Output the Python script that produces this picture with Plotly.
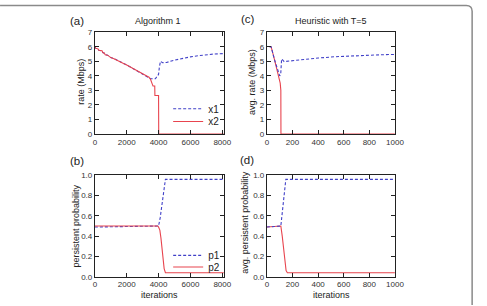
import plotly.graph_objects as go

W, H = 487, 306

# ---------------- data ----------------
# (a) Algorithm 1 : rates (Mbps) vs iterations
a_x1_iter = [0, 50, 200, 250, 450, 500, 600, 650, 800, 900, 1000, 1200, 1400, 1600, 1800, 2000,
             2200, 2400, 2600, 2800, 3000, 3200, 3400, 3500, 3800, 3900, 4000, 4050, 4120, 4250,
             4500, 5000, 5500, 6000, 6500, 7000, 7500, 8100]
a_x1_val = [6.0, 5.9, 5.85, 5.75, 5.72, 5.6, 5.55, 5.45, 5.42, 5.35, 5.25, 5.18, 5.05, 4.95, 4.85, 4.75,
            4.62, 4.52, 4.40, 4.28, 4.15, 4.02, 3.88, 3.8, 3.8, 3.95, 4.1, 4.6, 5.0, 4.9,
            4.92, 5.08, 5.2, 5.3, 5.38, 5.45, 5.5, 5.53]
a_x2_iter = [0, 50, 200, 250, 450, 500, 600, 650, 800, 900, 1000, 1200, 1400, 1600, 1800, 2000,
             2200, 2400, 2600, 2800, 3000, 3200, 3400, 3500, 3600, 3650, 3760, 3770, 4000, 4010, 8100]
a_x2_val = [6.0, 5.9, 5.85, 5.75, 5.72, 5.6, 5.55, 5.45, 5.42, 5.35, 5.25, 5.18, 5.05, 4.95, 4.85, 4.75,
            4.62, 4.52, 4.40, 4.28, 4.15, 4.02, 3.9, 3.75, 3.45, 3.3, 3.3, 2.65, 2.65, 0.0, 0.0]

# (b) Algorithm 1 : persistent probability vs iterations
b_p1_iter = [0, 3950, 4000, 4100, 4200, 4300, 4430, 8100]
b_p1_val = [0.49, 0.5, 0.5, 0.58, 0.7, 0.82, 0.96, 0.96]
b_p2_iter = [0, 3950, 4000, 4080, 4150, 4250, 4350, 4430, 8100]
b_p2_val = [0.5, 0.5, 0.49, 0.46, 0.38, 0.25, 0.08, 0.04, 0.04]

# (c) Heuristic with T=5 : avg. rate
c_x1_iter = [20, 33, 60, 92, 100, 108, 115, 135, 200, 275, 400, 530, 650, 784, 900, 1000]
c_x1_val = [6.0, 6.0, 5.1, 4.15, 4.0, 4.1, 5.16, 4.98, 5.05, 5.11, 5.22, 5.31, 5.37, 5.42, 5.45, 5.47]
c_x2_iter = [20, 33, 60, 92, 104, 109, 110, 1000]
c_x2_val = [6.0, 6.0, 5.1, 4.0, 3.5, 3.0, 0.0, 0.0]

# (d) Heuristic with T=5 : avg. persistent probability
d_p1_iter = [0, 109, 148, 1000]
d_p1_val = [0.49, 0.5, 0.96, 0.96]
d_p2_iter = [0, 109, 120, 150, 160, 1000]
d_p2_val = [0.49, 0.5, 0.4, 0.06, 0.04, 0.04]

# ---------------- style ----------------
BLUE = "#4040c8"
RED = "#e8444e"
FONT = "Liberation Sans, Arial, Helvetica, sans-serif"
AX = "#222222"
DASH = "3px,2px"


def px_x(p):
    return p / W


def px_y(p):
    return 1 - p / H


fig = go.Figure()


def add(xs, ys, color, dash, name, xa, ya, legend="legend", show=False):
    fig.add_trace(go.Scatter(
        x=xs, y=ys, mode="lines", name=name,
        line=dict(color=color, width=1.1, dash=dash),
        xaxis=xa, yaxis=ya, showlegend=show, legend=legend,
    ))


add(a_x1_iter, a_x1_val, BLUE, DASH, "x1", "x", "y", "legend", True)
add(a_x2_iter, a_x2_val, RED, "solid", "x2", "x", "y", "legend2", True)
add(c_x2_iter, c_x2_val, RED, "solid", "x2", "x2", "y2")
add(c_x1_iter, c_x1_val, BLUE, DASH, "x1", "x2", "y2")
add(b_p1_iter, b_p1_val, BLUE, DASH, "p1", "x3", "y3", "legend3", True)
add(b_p2_iter, b_p2_val, RED, "solid", "p2", "x3", "y3", "legend4", True)
add(d_p2_iter, d_p2_val, RED, "solid", "p2", "x4", "y4")
add(d_p1_iter, d_p1_val, BLUE, DASH, "p1", "x4", "y4")

common = dict(showline=True, linecolor=AX, linewidth=1, mirror="allticks",
              ticks="inside", ticklen=4, tickcolor=AX, tickwidth=1,
              showgrid=False, zeroline=False,
              tickfont=dict(family=FONT, size=8, color="#333333"))

left_dom = [px_x(95), px_x(227)]
right_dom = [px_x(271), px_x(402)]
top_dom = [px_y(134), px_y(29)]
bot_dom = [px_y(281), px_y(176.5)]


def leg(xp, yp):
    return dict(x=px_x(xp), y=px_y(yp), xanchor="left", yanchor="middle",
                bgcolor="rgba(0,0,0,0)", font=dict(family=FONT, size=10, color="#222"),
                itemwidth=30, tracegroupgap=0, itemclick=False, borderwidth=0)


fig.update_layout(
    width=W, height=H,
    margin=dict(l=0, r=0, t=0, b=0),
    paper_bgcolor="white", plot_bgcolor="white",
    font=dict(family=FONT, color="#222222"),
    xaxis=dict(domain=left_dom, range=[0, 8100], tickvals=[0, 2000, 4000, 6000, 8000],
               anchor="y", **common),
    yaxis=dict(domain=top_dom, range=[0, 7], dtick=1, anchor="x", **common),
    xaxis2=dict(domain=right_dom, range=[0, 1000], dtick=200, anchor="y2", **common),
    yaxis2=dict(domain=top_dom, range=[0, 7], dtick=1, anchor="x2", **common),
    xaxis3=dict(domain=left_dom, range=[0, 8100], tickvals=[0, 2000, 4000, 6000, 8000],
                anchor="y3", **common),
    yaxis3=dict(domain=bot_dom, range=[0, 1], dtick=0.2, tickformat=".1f", anchor="x3", **common),
    xaxis4=dict(domain=right_dom, range=[0, 1000], dtick=200, anchor="y4", **common),
    yaxis4=dict(domain=bot_dom, range=[0, 1], dtick=0.2, tickformat=".1f", anchor="x4", **common),
    legend=leg(170, 108),
    legend2=leg(170, 121),
    legend3=leg(170, 259),
    legend4=leg(170, 271),
)

f9 = dict(family=FONT, size=9, color="#222222")
f11 = dict(family=FONT, size=11.5, color="#222222")
annots = [
    ("(a)", 77, 17, f11, 0),
    ("Algorithm 1", 160, 17, f9, 0),
    ("(c)", 252, 15, f11, 0),
    ("Heuristic with T=5", 337, 17, f9, 0),
    ("(b)", 77, 162, f11, 0),
    ("(d)", 251, 161, f11, 0),
    ("rate (Mbps)", 80, 80, f9, -90),
    ("avg. rate (Mbps)", 255, 80, f9, -90),
    ("persistent probability", 76, 229, f9, -90),
    ("avg. persistent probability", 249, 225, f9, -90),
    ("iterations", 161, 299.5, f9, 0),
    ("iterations", 337, 300, f9, 0),
]
for t, x, y, f, ang in annots:
    fig.add_annotation(text=t, x=px_x(x), y=px_y(y), xref="paper", yref="paper",
                       showarrow=False, font=f, xanchor="center", yanchor="middle",
                       textangle=ang)

# outer rounded frame of the figure panel
r = 6
path = (f"M {px_x(-2)},{px_y(1.5)} L {px_x(481 - r)},{px_y(1.5)} "
        f"Q {px_x(481)},{px_y(1.5)} {px_x(481)},{px_y(1.5 + r)} "
        f"L {px_x(481)},{px_y(310)}")
fig.add_shape(type="path", path=path, xref="paper", yref="paper",
              line=dict(color="#8a8a8a", width=1.5))

fig.write_html("out.html")
